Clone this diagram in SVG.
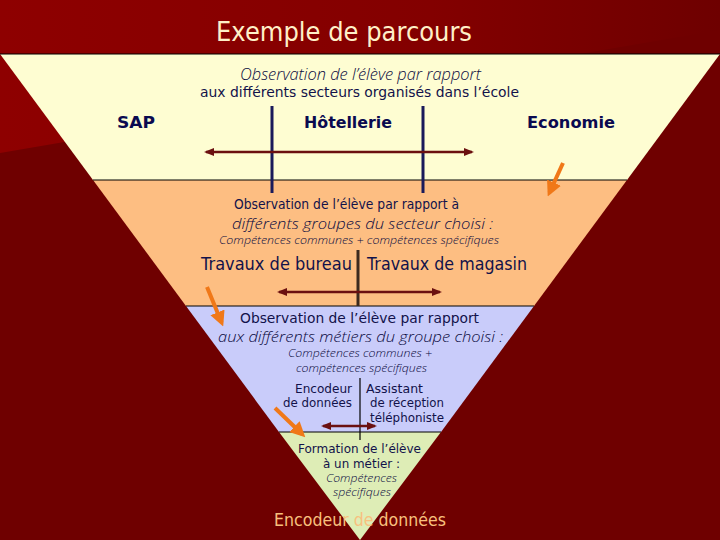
<svg xmlns="http://www.w3.org/2000/svg" width="720" height="540" viewBox="0 0 720 540">
<defs>
<linearGradient id="bgTop" x1="0" y1="0" x2="1" y2="0">
<stop offset="0" stop-color="#8E0000"/>
<stop offset="0.6" stop-color="#830000"/>
<stop offset="1" stop-color="#6E0000"/>
</linearGradient>
<marker id="dh" viewBox="0 0 10 10" refX="8" refY="5" markerWidth="4" markerHeight="4" orient="auto-start-reverse" markerUnits="strokeWidth">
<path d="M0,1 L10,5 L0,9 z" fill="#6B1010"/>
</marker>
<marker id="oh" viewBox="0 0 10 10" refX="7" refY="5" markerWidth="3.8" markerHeight="3.8" orient="auto" markerUnits="strokeWidth">
<path d="M0,0 L10,5 L0,10 z" fill="#F07818"/>
</marker>
<style>
text{font-family:"DejaVu Sans","Liberation Sans",sans-serif;fill:#12124A;}
.it{font-family:"Open Sans","DejaVu Sans",sans-serif;font-style:italic;font-weight:300;fill:#0A0A40;}
.b{font-weight:bold;fill:#0A0A50;}
.dbl{stroke:#6B1010;stroke-width:2.5;fill:none;marker-start:url(#dh);marker-end:url(#dh);}
.org{stroke:#F07818;stroke-width:4;fill:none;marker-end:url(#oh);}
.sep{stroke:#000;stroke-width:1;}
</style>
</defs>
<rect x="0" y="0" width="720" height="540" fill="#6F0000"/>
<polygon points="0,0 720,0 720,30 0,153" fill="url(#bgTop)"/>
<text x="216" y="41" font-size="26" textLength="256" lengthAdjust="spacingAndGlyphs" style="fill:#FFF0C8">Exemple de parcours</text>

<g id="band-yellow">
<polygon points="0,54 720,54 627,180 93,180" fill="#FEFDD2"/>
<text x="240" y="80" font-size="16" class="it" textLength="241" lengthAdjust="spacingAndGlyphs">Observation de l’élève par rapport</text>
<text x="200" y="97" font-size="13.5" textLength="319" lengthAdjust="spacingAndGlyphs">aux différents secteurs organisés dans l’école</text>
<text x="117" y="128" font-size="16" class="b" textLength="38" lengthAdjust="spacingAndGlyphs">SAP</text>
<text x="304" y="128" font-size="16" class="b" textLength="88" lengthAdjust="spacingAndGlyphs">Hôtellerie</text>
<text x="527" y="128" font-size="16" class="b" textLength="88" lengthAdjust="spacingAndGlyphs">Economie</text>
</g>

<g id="band-orange">
<polygon points="93,180 627,180 534,306 186,306" fill="#FDBE82"/>
<text x="234" y="209" font-size="13.5" textLength="225" lengthAdjust="spacingAndGlyphs">Observation de l’élève par rapport à</text>
<text x="232" y="229" font-size="15" class="it" textLength="261" lengthAdjust="spacingAndGlyphs">différents groupes du secteur choisi :</text>
<text x="219" y="244" font-size="10.5" class="it" textLength="280" lengthAdjust="spacingAndGlyphs">Compétences communes + compétences spécifiques</text>
<text x="201" y="270" font-size="17" textLength="151" lengthAdjust="spacingAndGlyphs">Travaux de bureau</text>
<text x="367" y="270" font-size="17" textLength="160" lengthAdjust="spacingAndGlyphs">Travaux de magasin</text>
</g>

<g id="band-blue">
<polygon points="186,306 534,306 441,432 279,432" fill="#C9CCFA"/>
<text x="240" y="323" font-size="13.5" textLength="239" lengthAdjust="spacingAndGlyphs">Observation de l’élève par rapport</text>
<text x="218" y="342" font-size="15" class="it" textLength="285" lengthAdjust="spacingAndGlyphs">aux différents métiers du groupe choisi :</text>
<text x="288" y="357" font-size="11.5" class="it" textLength="144" lengthAdjust="spacingAndGlyphs">Compétences communes +</text>
<text x="296" y="372" font-size="11.5" class="it" textLength="131" lengthAdjust="spacingAndGlyphs">compétences spécifiques</text>
<text x="295" y="393" font-size="12.5" textLength="57" lengthAdjust="spacingAndGlyphs">Encodeur</text>
<text x="283" y="407" font-size="12.5" textLength="69" lengthAdjust="spacingAndGlyphs">de données</text>
<text x="366" y="393" font-size="12.5" textLength="57" lengthAdjust="spacingAndGlyphs">Assistant</text>
<text x="370" y="407" font-size="12.5" textLength="74" lengthAdjust="spacingAndGlyphs">de réception</text>
<text x="370" y="422" font-size="12.5" textLength="74" lengthAdjust="spacingAndGlyphs">téléphoniste</text>
</g>

<g id="band-green">
<polygon points="279,432 441,432 360,540" fill="#DEEDB6"/>
<text x="298" y="453" font-size="12.5" textLength="123" lengthAdjust="spacingAndGlyphs">Formation de l’élève</text>
<text x="323" y="468" font-size="12.5" textLength="77" lengthAdjust="spacingAndGlyphs">à un métier :</text>
<text x="326" y="482" font-size="11" class="it" textLength="71" lengthAdjust="spacingAndGlyphs">Compétences</text>
<text x="333" y="496" font-size="11" class="it" textLength="58" lengthAdjust="spacingAndGlyphs">spécifiques</text>
</g>

<g id="connectors">
<line class="sep" x1="0" y1="54" x2="720" y2="54"/>
<line class="sep" x1="93" y1="180" x2="627" y2="180"/>
<line class="sep" x1="186" y1="306" x2="534" y2="306"/>
<line class="sep" x1="279" y1="432" x2="441" y2="432"/>
<line x1="272" y1="106" x2="272" y2="193" stroke="#1A1A5A" stroke-width="3"/>
<line x1="423" y1="106" x2="423" y2="193" stroke="#1A1A5A" stroke-width="3"/>
<line x1="358" y1="250" x2="358" y2="306" stroke="#3C2A1E" stroke-width="3"/>
<line x1="360" y1="378" x2="360" y2="440" stroke="#000" stroke-width="1.2"/>
<line class="dbl" x1="206" y1="152" x2="472" y2="152"/>
<line class="dbl" x1="279" y1="292" x2="440" y2="292"/>
<line class="dbl" x1="323" y1="426" x2="375" y2="426"/>
<line class="org" x1="563" y1="163" x2="549.6" y2="192.4"/>
<line class="org" x1="207" y1="287" x2="221.5" y2="322.3"/>
<line class="org" x1="275" y1="408" x2="302" y2="434"/>
</g>

<text x="274" y="526" font-size="17" textLength="172" lengthAdjust="spacingAndGlyphs" style="fill:#F8C07E">Encodeur de données</text>
</svg>
